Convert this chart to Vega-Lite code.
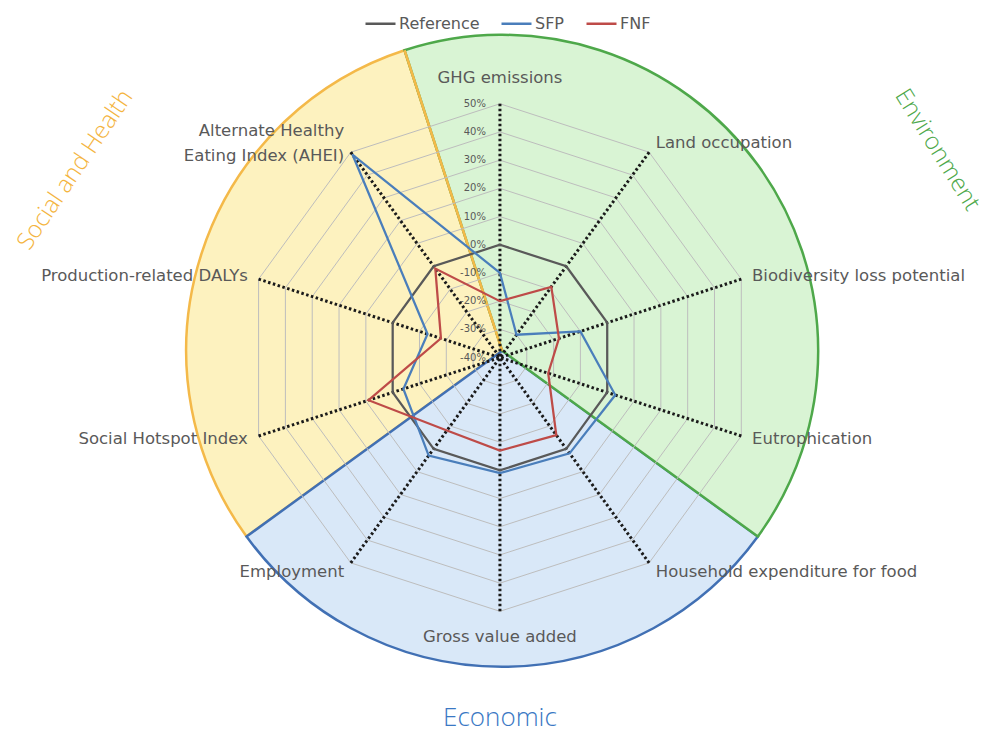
{
  "$schema": "https://vega.github.io/schema/vega-lite/v6.json",
  "width": 992,
  "height": 734,
  "autosize": {"type": "none"},
  "padding": 0,
  "background": "white",
  "config": {"view": {"stroke": null}, "text": {"font": "DejaVu Sans"}},
  "datasets": {
    "sectors": [
      {"name": "Environment", "n": 4, "k": 1},
      {"name": "Economic", "n": 3, "k": 2},
      {"name": "Social and Health", "n": 3, "k": 3}
    ],
    "axes": [
      {"i": 0, "label": "GHG emissions"},
      {"i": 1, "label": "Land occupation"},
      {"i": 2, "label": "Biodiversity loss potential"},
      {"i": 3, "label": "Eutrophication"},
      {"i": 4, "label": "Household expenditure for food"},
      {"i": 5, "label": "Gross value added"},
      {"i": 6, "label": "Employment"},
      {"i": 7, "label": "Social Hotspot Index"},
      {"i": 8, "label": "Production-related DALYs"},
      {"i": 9, "label": ["Alternate Healthy", "Eating Index (AHEI)"]}
    ],
    "rings": [
      {"level": -30, "i": [0,1,2,3,4,5,6,7,8,9]},
      {"level": -20, "i": [0,1,2,3,4,5,6,7,8,9]},
      {"level": -10, "i": [0,1,2,3,4,5,6,7,8,9]},
      {"level": 0, "i": [0,1,2,3,4,5,6,7,8,9]},
      {"level": 10, "i": [0,1,2,3,4,5,6,7,8,9]},
      {"level": 20, "i": [0,1,2,3,4,5,6,7,8,9]},
      {"level": 30, "i": [0,1,2,3,4,5,6,7,8,9]},
      {"level": 40, "i": [0,1,2,3,4,5,6,7,8,9]},
      {"level": 50, "i": [0,1,2,3,4,5,6,7,8,9]}
    ],
    "levels": [
      {"level": -40}, {"level": -30}, {"level": -20}, {"level": -10}, {"level": 0},
      {"level": 10}, {"level": 20}, {"level": 30}, {"level": 40}, {"level": 50}
    ],
    "series": [
      {"series": "Reference", "axis": "GHG emissions", "i": 0, "v": 0},
      {"series": "Reference", "axis": "Land occupation", "i": 1, "v": 0},
      {"series": "Reference", "axis": "Biodiversity loss potential", "i": 2, "v": 0},
      {"series": "Reference", "axis": "Eutrophication", "i": 3, "v": 0},
      {"series": "Reference", "axis": "Household expenditure for food", "i": 4, "v": 0},
      {"series": "Reference", "axis": "Gross value added", "i": 5, "v": 0},
      {"series": "Reference", "axis": "Employment", "i": 6, "v": 0},
      {"series": "Reference", "axis": "Social Hotspot Index", "i": 7, "v": 0},
      {"series": "Reference", "axis": "Production-related DALYs", "i": 8, "v": 0},
      {"series": "Reference", "axis": "AHEI", "i": 9, "v": 0},
      {"series": "SFP", "axis": "GHG emissions", "i": 0, "v": -10},
      {"series": "SFP", "axis": "Land occupation", "i": 1, "v": -30},
      {"series": "SFP", "axis": "Biodiversity loss potential", "i": 2, "v": -10},
      {"series": "SFP", "axis": "Eutrophication", "i": 3, "v": 3},
      {"series": "SFP", "axis": "Household expenditure for food", "i": 4, "v": 2},
      {"series": "SFP", "axis": "Gross value added", "i": 5, "v": 1},
      {"series": "SFP", "axis": "Employment", "i": 6, "v": 3},
      {"series": "SFP", "axis": "Social Hotspot Index", "i": 7, "v": -4},
      {"series": "SFP", "axis": "Production-related DALYs", "i": 8, "v": -13},
      {"series": "SFP", "axis": "AHEI", "i": 9, "v": 49},
      {"series": "FNF", "axis": "GHG emissions", "i": 0, "v": -20},
      {"series": "FNF", "axis": "Land occupation", "i": 1, "v": -9},
      {"series": "FNF", "axis": "Biodiversity loss potential", "i": 2, "v": -18},
      {"series": "FNF", "axis": "Eutrophication", "i": 3, "v": -22},
      {"series": "FNF", "axis": "Household expenditure for food", "i": 4, "v": -6},
      {"series": "FNF", "axis": "Gross value added", "i": 5, "v": -7},
      {"series": "FNF", "axis": "Employment", "i": 6, "v": -8},
      {"series": "FNF", "axis": "Social Hotspot Index", "i": 7, "v": 9},
      {"series": "FNF", "axis": "Production-related DALYs", "i": 8, "v": -18},
      {"series": "FNF", "axis": "AHEI", "i": 9, "v": -1}
    ]
  },
  "layer": [
    {
      "data": {"name": "sectors"},
      "transform": [
        {"stack": "n", "groupby": [], "sort": [{"field": "k", "order": "ascending"}], "as": ["a0", "a1"]},
        {"filter": "datum.name === 'Social and Health'"}
      ],
      "mark": {"type": "arc", "radius": 316, "fill": "#fdf2bf", "stroke": "#f4b949", "strokeWidth": 2.5},
      "encoding": {
        "theta": {"field": "a0", "type": "quantitative", "scale": {"domain": [0, 10], "range": [-0.314159, 5.969026]}},
        "theta2": {"field": "a1"},
        "x": {"datum": 0.8, "type": "quantitative", "scale": {"domain": [-177.3, 174.5], "nice": false, "zero": false}, "axis": null},
        "y": {"datum": 2.4, "type": "quantitative", "scale": {"domain": [-133.5, 126.8], "nice": false, "zero": false}, "axis": null}
      }
    },
    {
      "data": {"name": "sectors"},
      "transform": [
        {"stack": "n", "groupby": [], "sort": [{"field": "k", "order": "ascending"}], "as": ["a0", "a1"]},
        {"filter": "datum.name === 'Economic'"}
      ],
      "mark": {"type": "arc", "radius": 316, "fill": "#d9e8f8", "stroke": "#4170b4", "strokeWidth": 2.5},
      "encoding": {
        "theta": {"field": "a0", "type": "quantitative", "scale": {"domain": [0, 10], "range": [-0.314159, 5.969026]}},
        "theta2": {"field": "a1"},
        "x": {"datum": 0.8, "type": "quantitative", "scale": {"domain": [-177.3, 174.5], "nice": false, "zero": false}, "axis": null},
        "y": {"datum": 2.4, "type": "quantitative", "scale": {"domain": [-133.5, 126.8], "nice": false, "zero": false}, "axis": null}
      }
    },
    {
      "data": {"name": "sectors"},
      "transform": [
        {"stack": "n", "groupby": [], "sort": [{"field": "k", "order": "ascending"}], "as": ["a0", "a1"]},
        {"filter": "datum.name === 'Environment'"}
      ],
      "mark": {"type": "arc", "radius": 316, "fill": "#d9f4d4", "stroke": "#4ea84a", "strokeWidth": 2.5},
      "encoding": {
        "theta": {"field": "a0", "type": "quantitative", "scale": {"domain": [0, 10], "range": [-0.314159, 5.969026]}},
        "theta2": {"field": "a1"},
        "x": {"datum": 0.8, "type": "quantitative", "scale": {"domain": [-177.3, 174.5], "nice": false, "zero": false}, "axis": null},
        "y": {"datum": 2.4, "type": "quantitative", "scale": {"domain": [-133.5, 126.8], "nice": false, "zero": false}, "axis": null}
      }
    },
    {
      "data": {"name": "sectors"},
      "transform": [
        {"stack": "n", "groupby": [], "sort": [{"field": "k", "order": "ascending"}], "as": ["a0", "a1"]},
        {"filter": "datum.name === 'Social and Health'"}
      ],
      "mark": {"type": "arc", "radius": 316, "fillOpacity": 0, "stroke": "#f4b949", "strokeWidth": 2.5},
      "encoding": {
        "theta": {"field": "a1", "type": "quantitative", "scale": {"domain": [0, 10], "range": [-0.314159, 5.969026]}},
        "theta2": {"field": "a1"},
        "x": {"datum": 0.8, "type": "quantitative", "scale": {"domain": [-177.3, 174.5], "nice": false, "zero": false}, "axis": null},
        "y": {"datum": 2.4, "type": "quantitative", "scale": {"domain": [-133.5, 126.8], "nice": false, "zero": false}, "axis": null}
      }
    },
    {
      "data": {"name": "rings"},
      "transform": [
        {"flatten": ["i"]},
        {"calculate": "datum.i * PI / 5", "as": "t"},
        {"calculate": "(datum.level + 40) * sin(datum.t)", "as": "px"},
        {"calculate": "(datum.level + 40) * cos(datum.t)", "as": "py"}
      ],
      "mark": {"type": "line", "interpolate": "linear-closed", "stroke": "#bdbdbd", "strokeWidth": 1},
      "encoding": {
        "x": {"field": "px", "type": "quantitative", "scale": {"domain": [-177.3, 174.5], "nice": false, "zero": false}, "axis": null},
        "y": {"field": "py", "type": "quantitative", "scale": {"domain": [-133.5, 126.8], "nice": false, "zero": false}, "axis": null},
        "detail": {"field": "level", "type": "nominal"},
        "order": {"field": "i", "type": "quantitative"}
      }
    },
    {
      "data": {"name": "axes"},
      "transform": [
        {"calculate": "datum.i * PI / 5", "as": "t"},
        {"calculate": "90 * sin(datum.t)", "as": "sx"},
        {"calculate": "90 * cos(datum.t)", "as": "sy"}
      ],
      "mark": {"type": "rule", "stroke": "#1a1a1a", "strokeWidth": 3, "strokeDash": [2.5, 2.5]},
      "encoding": {
        "x": {"field": "sx", "type": "quantitative", "scale": {"domain": [-177.3, 174.5], "nice": false, "zero": false}, "axis": null},
        "y": {"field": "sy", "type": "quantitative", "scale": {"domain": [-133.5, 126.8], "nice": false, "zero": false}, "axis": null},
        "x2": {"datum": 0},
        "y2": {"datum": 0}
      }
    },
    {
      "data": {"name": "levels"},
      "transform": [
        {"calculate": "datum.level + '%'", "as": "label"},
        {"calculate": "datum.level + 40", "as": "r"}
      ],
      "mark": {"type": "text", "align": "right", "baseline": "middle", "dx": -14, "fontSize": 10, "fill": "#595959"},
      "encoding": {
        "x": {"datum": 0, "type": "quantitative", "scale": {"domain": [-177.3, 174.5], "nice": false, "zero": false}, "axis": null},
        "y": {"field": "r", "type": "quantitative", "scale": {"domain": [-133.5, 126.8], "nice": false, "zero": false}, "axis": null},
        "text": {"field": "label", "type": "nominal"}
      }
    },
    {
      "data": {"name": "series"},
      "transform": [
        {"calculate": "datum.i * PI / 5", "as": "t"},
        {"calculate": "(datum.v + 40) * sin(datum.t)", "as": "px"},
        {"calculate": "(datum.v + 40) * cos(datum.t)", "as": "py"}
      ],
      "mark": {"type": "line", "interpolate": "linear-closed", "strokeWidth": 2.25},
      "encoding": {
        "x": {"field": "px", "type": "quantitative", "scale": {"domain": [-177.3, 174.5], "nice": false, "zero": false}, "axis": null},
        "y": {"field": "py", "type": "quantitative", "scale": {"domain": [-133.5, 126.8], "nice": false, "zero": false}, "axis": null},
        "order": {"field": "i", "type": "quantitative"},
        "color": {
          "field": "series",
          "type": "nominal",
          "sort": ["Reference", "SFP", "FNF"],
          "scale": {"domain": ["Reference", "SFP", "FNF"], "range": ["#595959", "#4a7ebb", "#be4b48"]},
          "legend": {
            "orient": "none",
            "legendX": 364,
            "legendY": 7,
            "direction": "horizontal",
            "title": null,
            "padding": 0,
            "symbolType": "stroke",
            "symbolSize": 900,
            "symbolStrokeWidth": 2.5,
            "labelFont": "DejaVu Sans",
            "labelFontSize": 16,
            "labelColor": "#595959",
            "labelOffset": 2,
            "columnPadding": 16
          }
        }
      }
    },
    {
      "data": {"name": "axes"},
      "transform": [
        {"calculate": "datum.i * PI / 5", "as": "t"},
        {"filter": "sin(datum.t) > 0.1"},
        {"calculate": "94 * sin(datum.t)", "as": "lx"},
        {"calculate": "94 * cos(datum.t)", "as": "ly"}
      ],
      "mark": {"type": "text", "align": "left", "baseline": "middle", "fontSize": 16.5, "fill": "#595959"},
      "encoding": {
        "x": {"field": "lx", "type": "quantitative", "scale": {"domain": [-177.3, 174.5], "nice": false, "zero": false}, "axis": null},
        "y": {"field": "ly", "type": "quantitative", "scale": {"domain": [-133.5, 126.8], "nice": false, "zero": false}, "axis": null},
        "text": {"field": "label", "type": "nominal"}
      }
    },
    {
      "data": {"name": "axes"},
      "transform": [
        {"calculate": "datum.i * PI / 5", "as": "t"},
        {"filter": "sin(datum.t) < -0.1 && datum.i != 9"},
        {"calculate": "94 * sin(datum.t)", "as": "lx"},
        {"calculate": "94 * cos(datum.t)", "as": "ly"}
      ],
      "mark": {"type": "text", "align": "right", "baseline": "middle", "fontSize": 16.5, "fill": "#595959"},
      "encoding": {
        "x": {"field": "lx", "type": "quantitative", "scale": {"domain": [-177.3, 174.5], "nice": false, "zero": false}, "axis": null},
        "y": {"field": "ly", "type": "quantitative", "scale": {"domain": [-133.5, 126.8], "nice": false, "zero": false}, "axis": null},
        "text": {"field": "label", "type": "nominal"}
      }
    },
    {
      "data": {"name": "axes"},
      "transform": [
        {"calculate": "datum.i * PI / 5", "as": "t"},
        {"filter": "datum.i == 9"},
        {"calculate": "94 * sin(datum.t)", "as": "lx"},
        {"calculate": "94 * cos(datum.t)", "as": "ly"}
      ],
      "mark": {"type": "text", "align": "right", "baseline": "middle", "dy": -12, "fontSize": 16.5, "lineHeight": 25, "fill": "#595959"},
      "encoding": {
        "x": {"field": "lx", "type": "quantitative", "scale": {"domain": [-177.3, 174.5], "nice": false, "zero": false}, "axis": null},
        "y": {"field": "ly", "type": "quantitative", "scale": {"domain": [-133.5, 126.8], "nice": false, "zero": false}, "axis": null},
        "text": {"field": "label", "type": "nominal"}
      }
    },
    {
      "data": {"name": "axes"},
      "transform": [
        {"calculate": "datum.i * PI / 5", "as": "t"},
        {"filter": "abs(sin(datum.t)) <= 0.1"},
        {"calculate": "99 * sin(datum.t)", "as": "lx"},
        {"calculate": "99 * cos(datum.t)", "as": "ly"}
      ],
      "mark": {"type": "text", "align": "center", "baseline": "middle", "fontSize": 16.5, "fill": "#595959"},
      "encoding": {
        "x": {"field": "lx", "type": "quantitative", "scale": {"domain": [-177.3, 174.5], "nice": false, "zero": false}, "axis": null},
        "y": {"field": "ly", "type": "quantitative", "scale": {"domain": [-133.5, 126.8], "nice": false, "zero": false}, "axis": null},
        "text": {"field": "label", "type": "nominal"}
      }
    },
    {
      "data": {"values": [{"title": "Social and Health"}]},
      "mark": {"type": "text", "align": "center", "baseline": "middle", "angle": -56, "fontSize": 24, "font": "Open Sans", "fontWeight": 300, "fill": "#f4b43e"},
      "encoding": {
        "x": {"datum": -150.5, "type": "quantitative", "scale": {"domain": [-177.3, 174.5], "nice": false, "zero": false}, "axis": null},
        "y": {"datum": 66.5, "type": "quantitative", "scale": {"domain": [-133.5, 126.8], "nice": false, "zero": false}, "axis": null},
        "text": {"field": "title", "type": "nominal"}
      }
    },
    {
      "data": {"values": [{"title": "Environment"}]},
      "mark": {"type": "text", "align": "center", "baseline": "middle", "angle": 58, "fontSize": 24, "font": "Open Sans", "fontWeight": 300, "fill": "#4ea84a"},
      "encoding": {
        "x": {"datum": 155, "type": "quantitative", "scale": {"domain": [-177.3, 174.5], "nice": false, "zero": false}, "axis": null},
        "y": {"datum": 73.6, "type": "quantitative", "scale": {"domain": [-133.5, 126.8], "nice": false, "zero": false}, "axis": null},
        "text": {"field": "title", "type": "nominal"}
      }
    },
    {
      "data": {"values": [{"title": "Economic"}]},
      "mark": {"type": "text", "align": "center", "baseline": "middle", "fontSize": 26, "font": "Open Sans", "fontWeight": 300, "fill": "#3a78c4"},
      "encoding": {
        "x": {"datum": 0, "type": "quantitative", "scale": {"domain": [-177.3, 174.5], "nice": false, "zero": false}, "axis": null},
        "y": {"datum": -127.8, "type": "quantitative", "scale": {"domain": [-133.5, 126.8], "nice": false, "zero": false}, "axis": null},
        "text": {"field": "title", "type": "nominal"}
      }
    }
  ]
}
